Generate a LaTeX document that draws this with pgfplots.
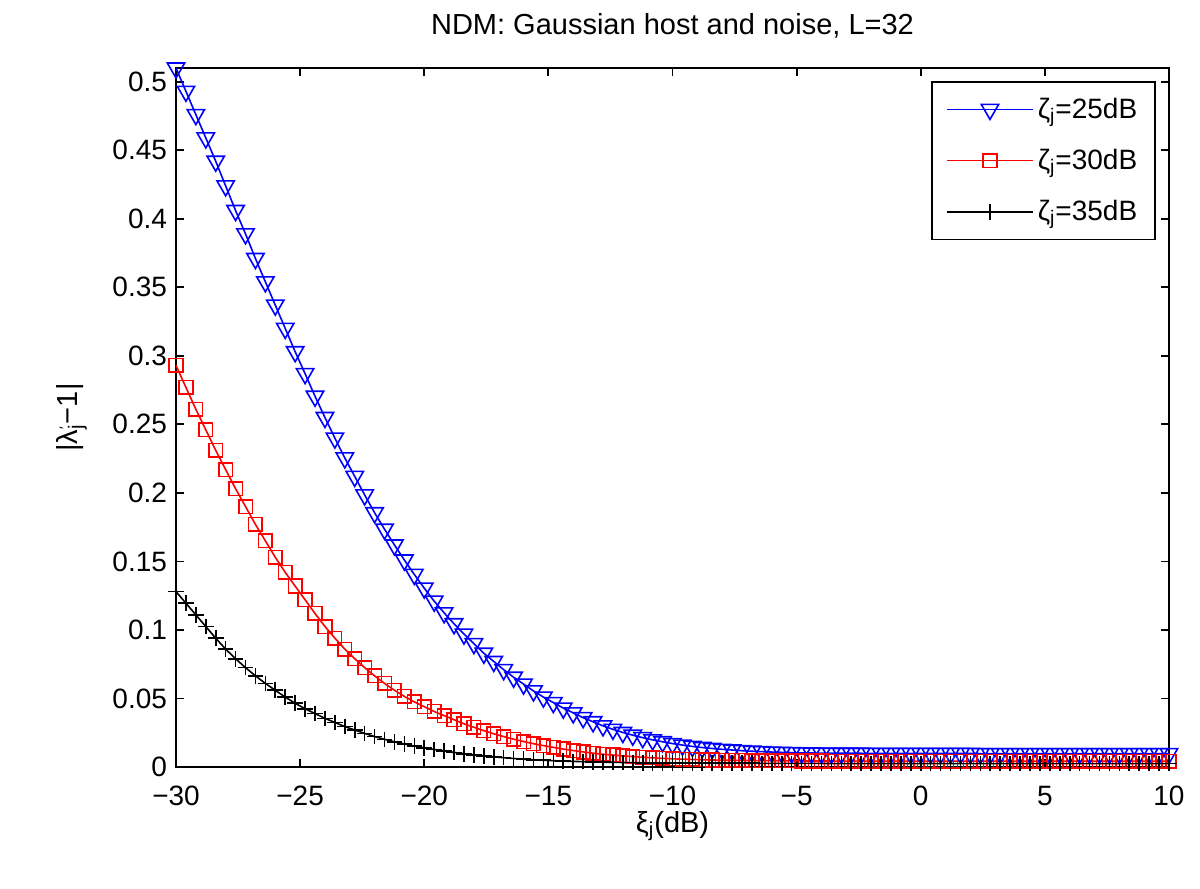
\documentclass[border=0pt]{standalone}
\usepackage{fontspec}
\setmainfont{Liberation Sans}
\usepackage{pgfplots}
\usepackage{pgfplotstable}
\pgfplotsset{compat=1.18}
\pgfplotstableread{
x b r k
-30.0 0.510 0.293 0.128
-29.6 0.493 0.277 0.1195
-29.2 0.476 0.261 0.111
-28.8 0.459 0.246 0.1025
-28.4 0.442 0.231 0.094
-28.0 0.424 0.217 0.086
-27.6 0.406 0.203 0.079
-27.2 0.389 0.190 0.0725
-26.8 0.371 0.177 0.0665
-26.4 0.354 0.165 0.061
-26.0 0.337 0.153 0.056
-25.6 0.320 0.142 0.051
-25.2 0.303 0.132 0.0465
-24.8 0.287 0.122 0.0425
-24.4 0.2705 0.112 0.039
-24.0 0.255 0.1025 0.0355
-23.6 0.2400 0.094 0.0325
-23.2 0.2255 0.086 0.0295
-22.8 0.212 0.079 0.027
-22.4 0.1985 0.0725 0.0245
-22.0 0.1855 0.0665 0.0222
-21.6 0.1735 0.061 0.0202
-21.2 0.162 0.056 0.0184
-20.8 0.151 0.0515 0.0168
-20.4 0.1405 0.0475 0.0153
-20.0 0.1305 0.0440 0.0140
-19.6 0.121 0.0405 0.0128
-19.2 0.1125 0.0375 0.0117
-18.8 0.1045 0.0345 0.0106
-18.4 0.097 0.0315 0.0097
-18.0 0.090 0.029 0.0089
-17.6 0.083 0.0265 0.0081
-17.2 0.077 0.0242 0.0074
-16.8 0.071 0.0222 0.0068
-16.4 0.0655 0.0203 0.0062
-16.0 0.0605 0.0186 0.0057
-15.6 0.0555 0.0170 0.0053
-15.2 0.051 0.0156 0.0049
-14.8 0.047 0.0143 0.0046
-14.4 0.043 0.0131 0.0043
-14.0 0.0395 0.0120 0.0041
-13.6 0.036 0.0110 0.0039
-13.2 0.033 0.0101 0.0037
-12.8 0.030 0.0093 0.0035
-12.4 0.0275 0.0087 0.0034
-12.0 0.0252 0.0081 0.0033
-11.6 0.0232 0.0076 0.0032
-11.2 0.0214 0.0071 0.0031
-10.8 0.0198 0.0067 0.0030
-10.4 0.0184 0.0063 0.0030
-10.0 0.0171 0.0060 0.0029
-9.6 0.0160 0.0057 0.0029
-9.2 0.0150 0.0055 0.0028
-8.8 0.0142 0.0053 0.0028
-8.4 0.0135 0.0051 0.0028
-8.0 0.0129 0.0050 0.0027
-7.6 0.0124 0.0049 0.0027
-7.2 0.0119 0.0048 0.0027
-6.8 0.0115 0.0047 0.0027
-6.4 0.0112 0.0046 0.0026
-6.0 0.0109 0.0046 0.0026
-5.6 0.0107 0.0045 0.0026
-5.2 0.0105 0.0045 0.0026
-4.8 0.0103 0.0044 0.0026
-4.4 0.0102 0.0044 0.0026
-4.0 0.0101 0.0044 0.0026
-3.6 0.0100 0.0043 0.0025
-3.2 0.0100 0.0043 0.0025
-2.8 0.0100 0.0043 0.0025
-2.4 0.0100 0.0043 0.0025
-2.0 0.0099 0.0043 0.0025
-1.6 0.0099 0.0043 0.0025
-1.2 0.0099 0.0043 0.0025
-0.8 0.0099 0.0043 0.0025
-0.4 0.0099 0.0043 0.0025
0.0 0.0099 0.0043 0.0025
0.4 0.0099 0.0043 0.0025
0.8 0.0099 0.0043 0.0025
1.2 0.0099 0.0043 0.0025
1.6 0.0099 0.0043 0.0025
2.0 0.0099 0.0043 0.0025
2.4 0.0098 0.0043 0.0025
2.8 0.0098 0.0043 0.0025
3.2 0.0098 0.0043 0.0025
3.6 0.0098 0.0043 0.0025
4.0 0.0098 0.0043 0.0025
4.4 0.0098 0.0043 0.0025
4.8 0.0098 0.0043 0.0025
5.2 0.0098 0.0043 0.0025
5.6 0.0098 0.0043 0.0025
6.0 0.0098 0.0043 0.0025
6.4 0.0098 0.0043 0.0025
6.8 0.0098 0.0043 0.0025
7.2 0.0098 0.0043 0.0025
7.6 0.0098 0.0043 0.0025
8.0 0.0098 0.0043 0.0025
8.4 0.0098 0.0043 0.0025
8.8 0.0098 0.0043 0.0025
9.2 0.0098 0.0043 0.0025
9.6 0.0098 0.0043 0.0025
10.0 0.0098 0.0043 0.0025
}\datatable
\begin{document}
\begin{tikzpicture}
\useasboundingbox (-88bp,-61bp) rectangle (512bp,383.5bp);
\begin{axis}[
  at={(0,0)}, anchor=south west,
  scale only axis, width=496.5bp, height=349.5bp,
  xmin=-30, xmax=10, ymin=0, ymax=0.51,
  clip=false,
  xtick={-30,-25,...,10},
  xticklabels={−30,−25,−20,−15,−10,−5,0,5,10},
  ytick={0,0.05,0.1,0.15,0.2,0.25,0.3,0.35,0.4,0.45,0.5},
  yticklabels={0,0.05,0.1,0.15,0.2,0.25,0.3,0.35,0.4,0.45,0.5},
  tick align=inside,
  major tick length=4bp,
  axis line style={line width=0.9bp},
  every tick/.style={line width=0.9bp, black},
  tick label style={font=\fontsize{14bp}{16bp}\selectfont},
  yticklabel style={xshift=-1bp},
  xticklabel style={yshift=-6bp},
  title={NDM: Gaussian host and noise, L=32},
  title style={font=\fontsize{14.5bp}{17bp}\selectfont, at={(axis description cs:0.5,1.031)}, anchor=base},
  xlabel={ξ\textsubscript{j}(dB)},
  xlabel style={font=\fontsize{14.5bp}{17bp}\selectfont, at={(axis description cs:0.5,-0.093)}, anchor=base},
  ylabel={|λ\rlap{\raisebox{0.55ex}{\scriptsize\char"2032}}\textsubscript{j}−1|},
  ylabel style={font=\fontsize{14.5bp}{17bp}\selectfont, at={(axis description cs:-0.105,0.5)}, anchor=center},
  legend cell align=left,
  legend style={at={(1,1)}, anchor=north east, xshift=-6.5bp, yshift=-6.5bp,
    font=\fontsize{14bp}{16bp}\selectfont, draw=black, line width=0.8bp,
    row sep=10bp, inner xsep=7bp, inner ysep=6bp},
  legend image code/.code={\draw[mark repeat=2,mark phase=2] plot coordinates {(0bp,0bp) (21.5bp,0bp) (43bp,0bp)};},
]
\addplot[blue, line width=0.8bp, mark=triangle, mark size=5bp, mark options={rotate=180, line width=0.8bp}] table[x=x,y=b] {\datatable};
\addlegendentry{ζ\textsubscript{j}=25dB}
\addplot[red, line width=0.8bp, mark=square, mark size=3.4bp, mark options={line width=0.8bp}] table[x=x,y=r] {\datatable};
\addlegendentry{ζ\textsubscript{j}=30dB}
\addplot[black, line width=0.8bp, mark=+, mark size=3.9bp, mark options={line width=0.8bp}] table[x=x,y=k] {\datatable};
\addlegendentry{ζ\textsubscript{j}=35dB}
\end{axis}
\end{tikzpicture}
\end{document}
